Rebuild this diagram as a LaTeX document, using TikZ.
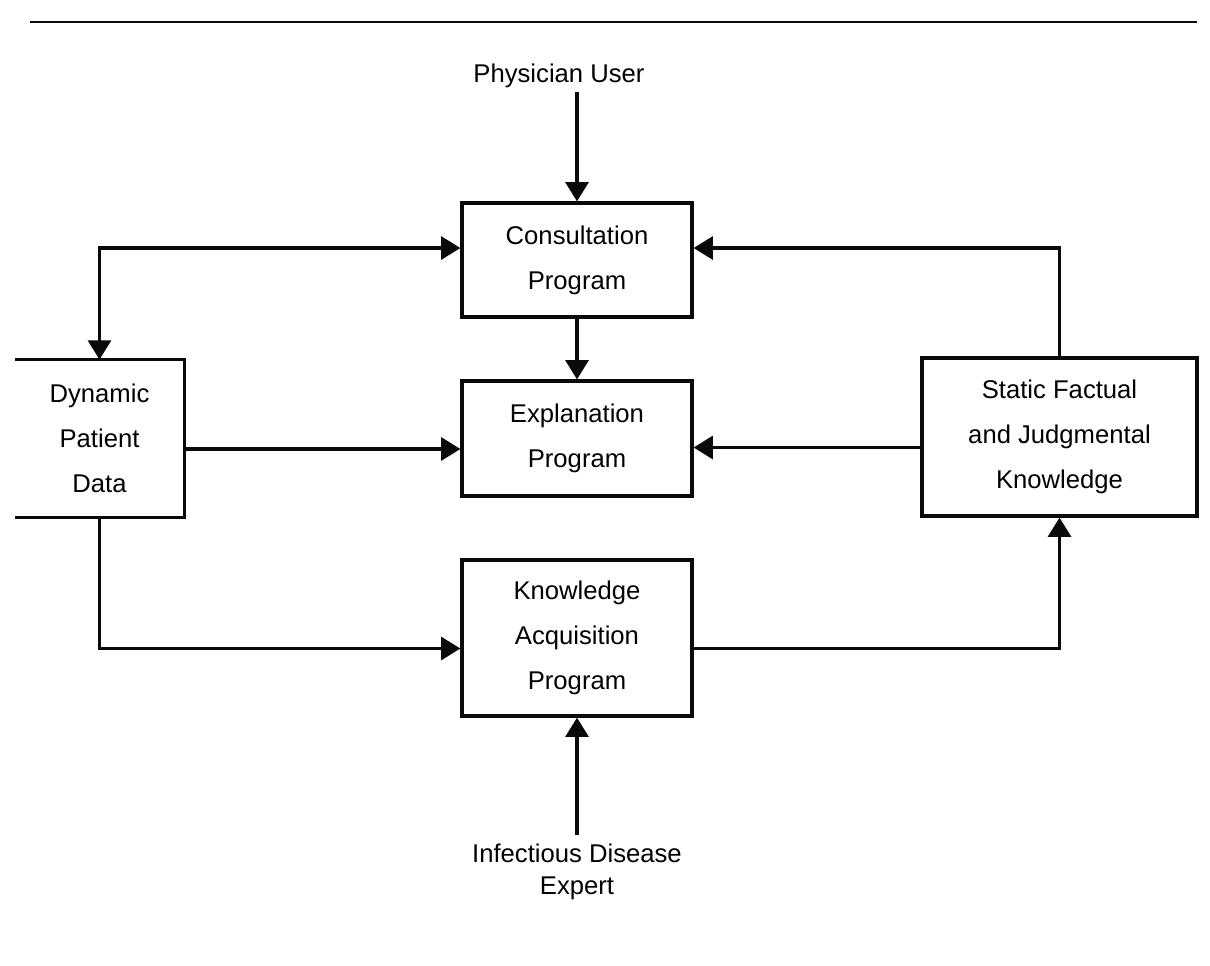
\documentclass[tikz,border=0pt]{standalone}
\usepackage{fontspec}
\setmainfont{Liberation Sans}
\usetikzlibrary{arrows.meta,positioning,calc}
\definecolor{inkBlack}{RGB}{10,10,10}

\begin{document}
\begin{tikzpicture}[
  x=0.02cm, y=-0.02cm,
  prog/.style={draw=inkBlack, line width=1.8pt, align=center,
               font=\fontsize{14.6}{25.5}\selectfont, inner sep=0pt},
  store/.style={align=center, font=\fontsize{14.6}{25.5}\selectfont, inner sep=0pt},
  outside/.style={align=center, font=\fontsize{14.6}{18.5}\selectfont, inner sep=2pt},
  arr/.style={-{Triangle[length=11pt,width=13pt]}, inkBlack, line width=2pt},
  darr/.style={{Triangle[length=11pt,width=13pt]}-{Triangle[length=11pt,width=13pt]},
               inkBlack, line width=2pt},
]

\def\pw{4.6cm}   % width of the program boxes
\def\up{0.24cm}  % offset of the upper feedback lines
\def\dn{-0.21cm} % offset of the lower lines

% ─── frame ─────────────────────────────────────────────────────
\useasboundingbox (0,0) rectangle (1210,965);
\draw[inkBlack, line width=1.2pt] (30,22) -- (1197,22);

% ─── program boxes ─────────────────────────────────────────────
\node[prog, minimum width=\pw, minimum height=2.28cm] (consult) at (577,260)
    {Consultation\\Program};
\node[prog, minimum width=\pw, minimum height=2.3cm] (expl) at (577,438.5)
    {Explanation\\Program};
\node[prog, minimum width=\pw, minimum height=3.12cm] (know) at (577,638)
    {Knowledge\\Acquisition\\Program};

% ─── data stores ───────────────────────────────────────────────
\node[store, minimum width=3.38cm, minimum height=3.14cm] (dyn) at (99.5,438.5)
    {Dynamic\\Patient\\Data};
\draw[inkBlack, line width=1.8pt]
    (dyn.north west) -- (dyn.north east) -- (dyn.south east) -- (dyn.south west);
\node[prog, minimum width=5.5cm, minimum height=3.16cm] (stat) at (1059.5,437)
    {Static Factual\\and Judgmental\\Knowledge};

% ─── people ────────────────────────────────────────────────────
\node[outside] (phys) at (559,76) {Physician User};
\node[outside] (expert) at (577,872) {Infectious Disease\\Expert};

% ─── connectors ────────────────────────────────────────────────
\draw[arr] (consult.north |- phys.south) -- (consult.north);
\draw[arr] ([yshift=3pt]expert.north) -- (know.south);
\draw[arr] (consult.south) -- (expl.north);
\draw[darr] ([yshift=\up]consult.west) -| (dyn.north);
\draw[arr] (stat.north) |- ([yshift=\up]consult.east);
\draw[arr] ([yshift=\dn]dyn.east) -- ([yshift=\dn]dyn.east -| expl.west);
\draw[arr] ([yshift=\dn]stat.west) -- ([yshift=\dn]stat.west -| expl.east);
\draw[arr] (dyn.south) |- ([yshift=\dn]know.west);
\draw[arr] ([yshift=\dn]know.east) -| (stat.south);

\end{tikzpicture}
\end{document}
